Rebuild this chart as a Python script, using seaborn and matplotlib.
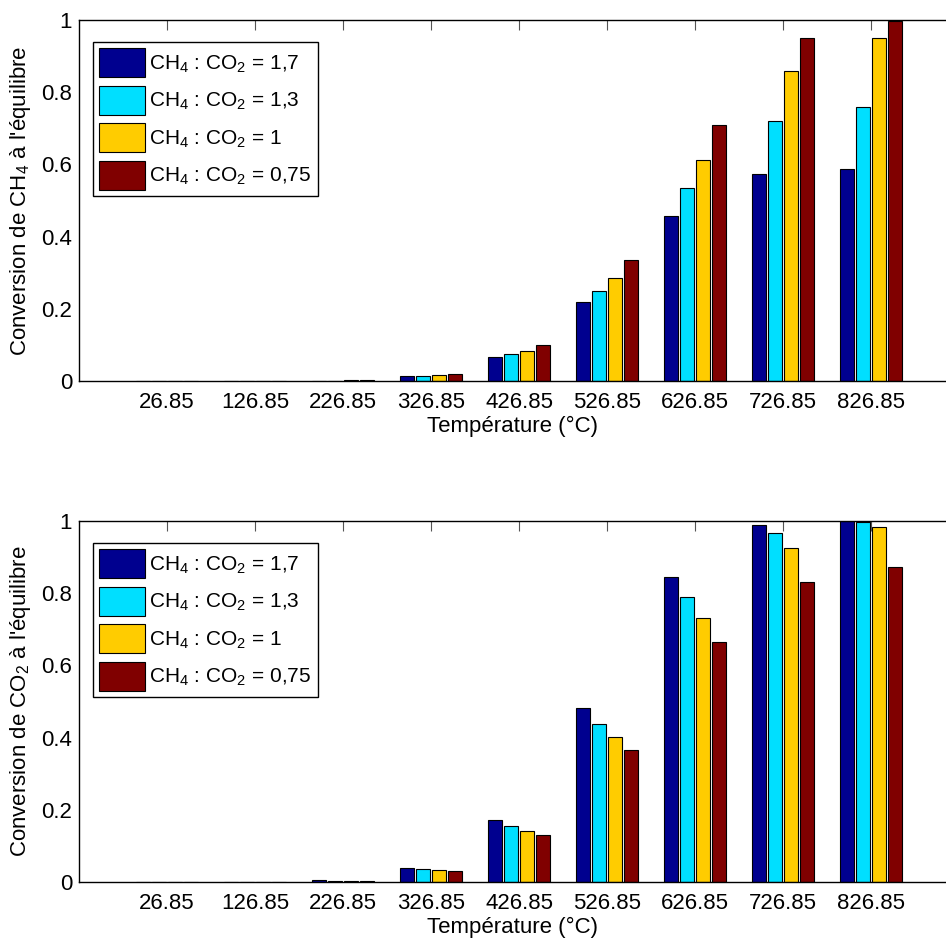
import pandas as pd
import matplotlib
matplotlib.use("Agg")
import matplotlib.pyplot as plt
import seaborn as sns

# data
temperatures = ["26.85", "126.85", "226.85", "326.85", "426.85",
                "526.85", "626.85", "726.85", "826.85"]
ratios = ["CH$_4$ : CO$_2$ = 1,7", "CH$_4$ : CO$_2$ = 1,3",
          "CH$_4$ : CO$_2$ = 1", "CH$_4$ : CO$_2$ = 0,75"]

ch4_r17 = [0.0, 0.0001, 0.001, 0.014, 0.066, 0.220, 0.456, 0.574, 0.586]
ch4_r13 = [0.0, 0.0001, 0.001, 0.015, 0.074, 0.250, 0.535, 0.721, 0.758]
ch4_r10 = [0.0, 0.0001, 0.002, 0.016, 0.084, 0.284, 0.613, 0.859, 0.949]
ch4_r075 = [0.0, 0.0001, 0.002, 0.019, 0.100, 0.335, 0.709, 0.949, 0.998]

co2_r17 = [0.0, 0.0002, 0.005, 0.038, 0.172, 0.481, 0.845, 0.988, 0.999]
co2_r13 = [0.0, 0.0002, 0.004, 0.035, 0.156, 0.439, 0.789, 0.968, 0.996]
co2_r10 = [0.0, 0.0002, 0.004, 0.032, 0.142, 0.402, 0.732, 0.924, 0.982]
co2_r075 = [0.0, 0.0002, 0.003, 0.030, 0.131, 0.367, 0.666, 0.830, 0.872]

colors = ["#00008F", "#00DFFF", "#FFCC00", "#800000"]
yticks = [0, 0.2, 0.4, 0.6, 0.8, 1]
ytick_labels = ["0", "0.2", "0.4", "0.6", "0.8", "1"]


def long_table(series):
    rows = []
    for ratio, vals in zip(ratios, series):
        for t, v in zip(temperatures, vals):
            rows.append({"Temperature": t, "Ratio": ratio, "Conversion": v})
    return pd.DataFrame(rows)


df_ch4 = long_table([ch4_r17, ch4_r13, ch4_r10, ch4_r075])
df_co2 = long_table([co2_r17, co2_r13, co2_r10, co2_r075])

sns.set_style("white")
plt.rcParams["font.family"] = ["Liberation Sans", "DejaVu Sans"]
plt.rcParams["mathtext.fontset"] = "custom"
plt.rcParams["mathtext.rm"] = "Liberation Sans"
plt.rcParams["mathtext.it"] = "Liberation Sans"
plt.rcParams["font.size"] = 16
plt.rcParams["text.color"] = "black"
plt.rcParams["axes.labelcolor"] = "black"
plt.rcParams["xtick.labelcolor"] = "black"
plt.rcParams["ytick.labelcolor"] = "black"

fig = plt.figure(figsize=(9.46, 9.39), dpi=100)
ax1 = fig.add_axes([79 / 946, (939 - 381) / 939, 867 / 946, 361 / 939])
ax2 = fig.add_axes([79 / 946, (939 - 882) / 939, 867 / 946, 361 / 939])

palette = dict(zip(ratios, colors))

for ax, df, ylab in [(ax1, df_ch4, "Conversion de CH$_4$ à l'équilibre"),
                     (ax2, df_co2, "Conversion de CO$_2$ à l'équilibre")]:
    sns.barplot(data=df, x="Temperature", y="Conversion", hue="Ratio",
                order=temperatures, hue_order=ratios, palette=palette,
                width=0.727, gap=0.125, edgecolor="black", linewidth=0.8,
                saturation=1, ax=ax)
    ax.set_xlim(-1, 8.85)
    ax.set_ylim(0, 1)
    ax.set_yticks(yticks)
    ax.set_yticklabels(ytick_labels)
    ax.set_xlabel("Température (°C)", labelpad=2)
    ax.set_ylabel(ylab, labelpad=6)
    ax.tick_params(axis="x", direction="in", length=7, width=0.8, top=True,
                   pad=8, labelsize=16, color="#555555")
    ax.tick_params(axis="y", direction="in", length=6, width=0.8,
                   pad=5, labelsize=16, color="#555555")
    for side in ["left", "top", "bottom"]:
        ax.spines[side].set_color("black")
        ax.spines[side].set_linewidth(1.0)
    ax.spines["right"].set_visible(False)

    handles, labels = ax.get_legend_handles_labels()
    leg = ax.legend(handles, labels, loc="upper left",
                    bbox_to_anchor=(14 / 867, 1 - 22 / 361),
                    borderaxespad=0, fontsize=15, handlelength=2.2,
                    handleheight=1.75, labelspacing=0.42, handletextpad=0.2,
                    borderpad=0.3, fancybox=False, framealpha=1)
    leg.get_frame().set_edgecolor("black")
    leg.get_frame().set_linewidth(1.0)

fig.savefig("out.png", dpi=100)
